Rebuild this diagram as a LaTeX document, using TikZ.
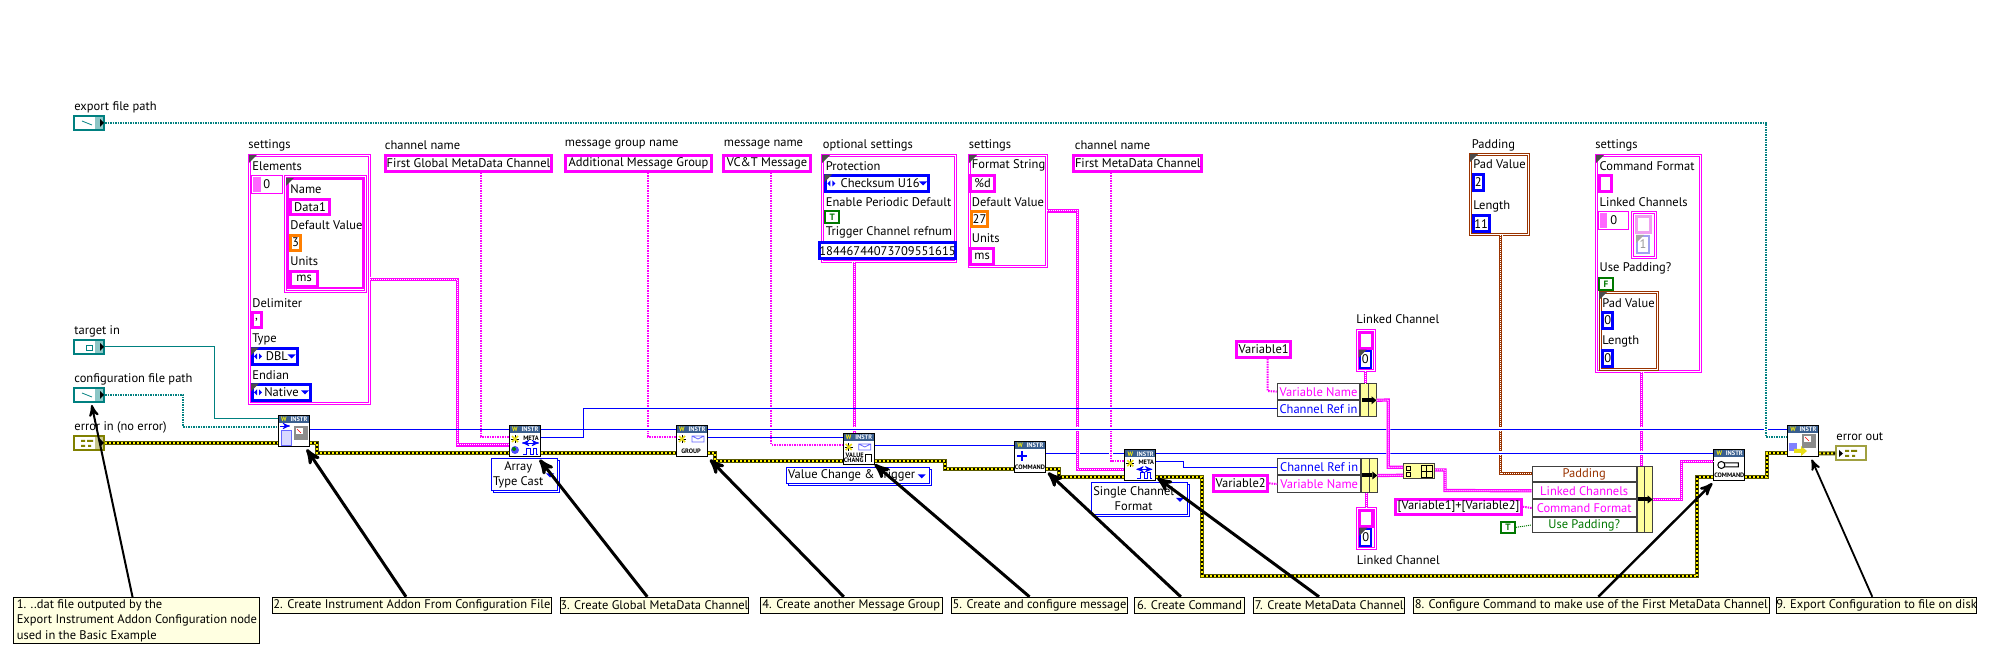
\documentclass[tikz,border=0pt]{standalone}
\usepackage{fontspec}
\setmainfont{PT Sans}
\usetikzlibrary{calc, arrows, positioning}
\definecolor{wteal}{HTML}{008080}
\definecolor{wpink}{HTML}{FF00FF}
\definecolor{wblue}{HTML}{0000FF}
\definecolor{wbrown}{HTML}{993300}
\definecolor{wgreen}{HTML}{007800}
\definecolor{wolive}{HTML}{808000}
\definecolor{wdark}{HTML}{5A5A00}
\definecolor{worange}{HTML}{FF7F00}
\definecolor{notey}{HTML}{FFFFE1}
\definecolor{bargray}{HTML}{404040}
\definecolor{vihead}{HTML}{3A5F8F}
\definecolor{paleP}{HTML}{F0A0F0}
\definecolor{paleB}{HTML}{A0A0F0}
\tikzset{
lbl/.style={inner sep=0pt, anchor=west, font=\fontsize{6.25}{7.6}\selectfont},
ctl/.style={rectangle, inner sep=0pt, fill=white, align=center, font=\fontsize{6.25}{7.6}\selectfont},
clus/.style={rectangle, inner sep=0pt, line width=.5pt, double=white, double distance=.5pt, fill=white, font=\fontsize{6.25}{7.6}\selectfont},
notebox/.style={rectangle, draw=black, line width=.5pt, fill=notey, inner sep=0pt, font=\fontsize{6.25}{7.6}\selectfont},
vibox/.style={rectangle, draw=black, line width=.5pt, fill=white, inner sep=0pt, minimum width=15.5pt, minimum height=15.5pt},
vitxt/.style={inner sep=0pt, font=\fontsize{3.2}{3.6}\selectfont\bfseries},
barbox/.style={rectangle, draw=bargray, line width=.5pt, fill=notey!70!yellow, inner sep=0pt},
termbox/.style={rectangle, line width=1pt, fill=white, inner sep=0pt, minimum width=15pt, minimum height=7pt},
bluew/.style={draw=wblue, line width=.5pt},
halo/.style={preaction={draw=white, line width=2pt, solid}},
tealw/.style={draw=wteal, line width=.5pt},
pathw/.style={draw=wteal, line width=1pt, dash pattern=on .75pt off .5pt},
strw/.style={draw=wpink, line width=1pt, dash pattern=on .75pt off .5pt},
clusw/.style={draw=#1, line width=1.6pt, postaction={draw=white, line width=.5pt, dash pattern=on .5pt off .5pt}},
clusw/.default=wpink,
errw/.style={draw=wdark, line width=2pt, postaction={draw=black, line width=1pt}, postaction={draw=yellow, line width=1pt, dash pattern=on 1pt off 1pt}},
notearrow/.style={draw=black, -stealth', shorten >=0pt}
}
\newcommand{\ctlbox}[8]{\node[ctl,draw=#6,line width={#7*.5pt},minimum width={((#4)-(#2)-#7)*.5pt},minimum height={((#5)-(#3)-#7)*.5pt}] (#1) at ({((#2)+(#4))/2},{((#3)+(#5))/2}) {#8};}
\newcommand{\clusnode}[6]{\node[clus,draw=#6,minimum width={((#4)-(#2)-3)*.5pt},minimum height={((#5)-(#3)-3)*.5pt}] (#1) at ({((#2)+(#4))/2},{((#3)+(#5))/2}) {};}
\newcommand{\cornermark}[2]{\fill[black!70] ({#1},{#2}) -- ({#1+8},{#2}) -- ({#1},{#2+8}) -- cycle;}
\newcommand{\downmark}[2]{\fill[wblue] ({#1-4},{#2-2}) -- ({#1+4},{#2-2}) -- ({#1},{#2+2}) -- cycle;}
\newcommand{\boolmark}[1]{\textcolor{wgreen}{\fontsize{4.6}{5}\selectfont\textbf{#1}}}
\newcommand{\enumnode}[6]{\ctlbox{#1}{#2}{#3}{#4}{#5}{wblue}{3}{#6}
\cornermark{#2}{#3}
\fill[wblue] (#2+6,{(#3+#5)/2-3}) -- (#2+3,{(#3+#5)/2}) -- (#2+6,{(#3+#5)/2+3}) -- cycle;
\fill[wblue] (#2+8,{(#3+#5)/2-3}) -- (#2+11,{(#3+#5)/2}) -- (#2+8,{(#3+#5)/2+3}) -- cycle;
\downmark{#4-7}{(#3+#5)/2}}
\newcommand{\ringnode}[6]{\ctlbox{#1b}{#2+2}{#3+2}{#4}{#5}{wblue}{1}{}
\ctlbox{#1}{#2}{#3}{#4-2}{#5-2}{wblue}{1}{}
\node[lbl,anchor=center,align=center] (#1t) at ({(#2+#4)/2-7},{(#3+#5)/2-1}) {#6};
\downmark{#4-10}{(#3+#5)/2}}
\newcommand{\barnode}[5]{\node[barbox,minimum width={(#4-#2-1)*.5pt},minimum height={(#5-#3-1)*.5pt}] (#1) at ({(#2+#4)/2},{(#3+#5)/2}) {};
\draw[bargray,line width=.5pt] ({(#2+#4)/2},#3) -- ({(#2+#4)/2},#5);
\fill[black] ({(#2+#4)/2-7},{(#3+#5)/2-2}) rectangle ({(#2+#4)/2+3},{(#3+#5)/2+2});
\fill[black] ({(#2+#4)/2+3},{(#3+#5)/2-4}) -- ({(#2+#4)/2+8},{(#3+#5)/2}) -- ({(#2+#4)/2+3},{(#3+#5)/2+4}) -- cycle;}
\newcommand{\termnode}[4]{\node[termbox,draw=#4] (#1) at ({#2+16},{#3+8}) {};
\fill[#4!45] (#2+22,#3+2) rectangle (#2+30,#3+14);
\fill[black] (#2+27,#3+4) -- (#2+31,#3+8) -- (#2+27,#3+12) -- cycle;}
\newcommand{\errmark}[3]{\fill[#3] (#1,#2) rectangle (#1+4,#2+2) (#1+6,#2) rectangle (#1+12,#2+2) (#1,#2+5) rectangle (#1+4,#2+7) (#1+7,#2+5) rectangle (#1+10,#2+7);}
\newcommand{\vinode}[3]{\node[vibox] (#1) at ({#2+16},{#3+16}) {};
\fill[vihead] (#2+1,#3+1) rectangle (#2+31,#3+8);
\node[vitxt,text=yellow] (#1w) at (#2+6,#3+4.5) {W};
\node[vitxt,text=white] (#1h) at (#2+21,#3+4.5) {INSTR};}
\newcommand{\starmark}[2]{\draw[black,line width=.4pt] (#1-4,#2) -- (#1+4,#2) (#1,#2-4) -- (#1,#2+4);
\draw[yellow!90!black,line width=.8pt] (#1-3,#2-3) -- (#1+3,#2+3) (#1-3,#2+3) -- (#1+3,#2-3);}
\newcommand{\mailmark}[2]{\draw[wblue!60,fill=white,line width=.4pt] (#1-6,#2-3) rectangle (#1+6,#2+3) (#1-6,#2-3) -- (#1,#2) -- (#1+6,#2-3);}
\newcommand{\pulsemark}[2]{\draw[wblue,line width=.4pt] (#1-7,#2+3) -- (#1-4,#2+3) -- (#1-4,#2-3) -- (#1,#2-3) -- (#1,#2+3) -- (#1+3,#2+3) -- (#1+3,#2-3) -- (#1+6,#2-3) -- (#1+6,#2+3) -- (#1+8,#2+3);}
\newcommand{\gaugemark}[2]{\fill[black!45] (#1-7,#2-7) rectangle (#1+7,#2+7);
\fill[white] (#1-5,#2-5) rectangle (#1+2,#2+1);
\draw[red,line width=.3pt] (#1-4,#2-4) -- (#1,#2);}

\begin{document}
\begin{tikzpicture}[x=.5pt,y=-.5pt]
\useasboundingbox (0,0) rectangle (1998,656);
% labels
\foreach \n/\x/\y/\t in {lexport/74/107/export file path, ltarget/74/331/target in, lconfig/74/379/configuration file path, lerrin/74/427/error in (no error), lset/248/145/settings, lchan/384.5/145/channel name, lgroup/564.5/145/message group name, lmsg/723.5/145/message name, lopt/822.5/145/optional settings, lsett/968.5/145/settings, lchant/1074.5/145/channel name, lpad/1471.5/145/Padding, lsetc/1595/145/settings, llinka/1356/319/Linked Channel, llinkb/1356.5/560/Linked Channel, lerrout/1836/437/error out}
  {\node[lbl] (\n) at (\x,\y) {\t};}
% front panel terminals
\termnode{texport}{73}{115}{wteal}
\termnode{ttarget}{73}{339}{wteal}
\termnode{tconfig}{73}{387}{wteal}
\termnode{terrin}{73}{435}{wolive}
\draw[wteal,line width=.4pt] (82,121) -- (92,125) (82,393) -- (92,397);
\draw[wteal,line width=.4pt] (86,345) rectangle (92,350);
\errmark{81}{440}{wolive}
\node[termbox,draw=wolive!75,fill=white] (terrout) at (1851,453.5) {};
\fill[black] (1839,450) -- (1843,453.5) -- (1839,457) -- cycle;
\errmark{1845}{450}{wolive}
% settings
\clusnode{cseta}{248.3}{154}{371}{404.7}{wpink}
\cornermark{249}{155}
\clusnode{carr}{284}{175}{366.7}{292.7}{wpink}
\ctlbox{cel}{286.5}{178}{364}{289.3}{wpink}{2}{}
\cornermark{286}{178}
\ctlbox{cidx}{250.5}{175}{283}{194}{wpink}{1}{0}
\fill[wpink!60] (253,177) rectangle (261,192);
\foreach \n/\x/\y/\t in {lel/252/166/Elements, lname/290/189/Name, ldef/290/225/Default Value, lunit/290/261/Units, ldel/252/302.7/Delimiter, ltype/252/339/Type, lend/252/375/Endian}
  {\node[lbl] (\n) at (\x,\y) {\t};}
\ctlbox{cdata}{289.3}{197.7}{330.7}{215.7}{wpink}{3}{Data1}
\ctlbox{cthree}{289.3}{233.7}{302}{251.7}{worange}{3}{3}
\ctlbox{cms}{289.3}{269.7}{319}{287.7}{wpink}{3}{ms}
\ctlbox{cdelim}{250.5}{311.3}{262.7}{329.3}{wpink}{3}{,}
\enumnode{cdbl}{251}{347.3}{298.7}{365.7}{\hspace{2pt}DBL}
\enumnode{cnat}{251}{383.3}{312}{401.7}{Native}
% names
\ctlbox{cglob}{384.3}{154}{552.7}{172.7}{wpink}{3}{First Global MetaData Channel}
\ctlbox{cmgrp}{564.3}{154.3}{712.7}{172.7}{wpink}{3}{Additional Message Group}
\ctlbox{cmsg}{722.3}{154.3}{811.7}{172.7}{wpink}{3}{VC\&T Message}
\ctlbox{cfirst}{1072.3}{154.3}{1203.3}{172.7}{wpink}{3}{First MetaData Channel}
% optional settings
\clusnode{copt}{821.3}{154}{956.7}{262.7}{wpink}
\cornermark{822}{155}
\foreach \n/\x/\y/\t in {lprot/825.5/165.7/Protection, lena/825.5/201.7/Enable Periodic Default, ltrig/825.5/232.7/Trigger Channel refnum}
  {\node[lbl] (\n) at (\x,\y) {\t};}
\enumnode{cchk}{824.3}{174.3}{930}{192.7}{\hspace{3pt}Checksum U16}
\ctlbox{cena}{824.3}{210.3}{840}{224.3}{wgreen}{2}{\boolmark{T}}
\ctlbox{cref}{824.3}{241.3}{950.7}{260}{wblue}{3}{18446744073709551615}
% second settings
\clusnode{csetb}{968}{154}{1047.7}{267.7}{wpink}
\cornermark{969}{155}
\foreach \n/\x/\y/\t in {lfmt/971.5/165.7/Format String, ldefb/971.5/201.7/Default Value, lunitb/971.5/237.7/Units}
  {\node[lbl] (\n) at (\x,\y) {\t};}
\ctlbox{cfmt}{969.3}{174.3}{996}{192.7}{wpink}{3}{\%d}
\ctlbox{cval}{970}{210.3}{989}{228.3}{worange}{3}{27}
\ctlbox{cmsb}{969.3}{246.7}{995}{265.7}{wpink}{3}{ms}
% padding
\clusnode{cpad}{1469.3}{153.3}{1530}{235.7}{wbrown}
\cornermark{1470}{154}
\foreach \n/\x/\y/\t in {lpv/1473/164.3/Pad Value, llen/1473/206/Length}
  {\node[lbl] (\n) at (\x,\y) {\t};}
\ctlbox{cpv}{1471.7}{173.3}{1485}{191.7}{wblue}{3}{2}
\ctlbox{clen}{1471.7}{214.3}{1490.7}{233.3}{wblue}{3}{11}
% command settings
\clusnode{csetc}{1595}{154.3}{1701.7}{373.3}{wpink}
\cornermark{1596}{155}
\foreach \n/\x/\y/\t in {lcf/1599.3/165.7/Command Format, llc/1599.3/201.7/Linked Channels, lup/1599.3/268.7/Use Padding?}
  {\node[lbl] (\n) at (\x,\y) {\t};}
\ctlbox{ccf}{1598}{174.3}{1612.7}{192.7}{wpink}{3}{}
\ctlbox{cidxc}{1598}{211}{1629.3}{230}{wpink}{1}{0}
\fill[wpink!60] (1600,213) rectangle (1607,228);
\clusnode{clinkc}{1630.7}{210.7}{1656.7}{259.3}{wpink}
\ctlbox{clca}{1635}{215}{1652}{234}{paleP}{3}{}
\ctlbox{clcb}{1636}{235}{1650}{254}{paleB}{2}{\textcolor{black!40}{1}}
\fill[black!35] (1636,235) -- (1644,235) -- (1636,243) -- cycle;
\ctlbox{cfb}{1598}{277.3}{1614}{291}{wgreen}{2}{\boolmark{F}}
\clusnode{cpadc}{1598.7}{291.3}{1658.7}{370.7}{wbrown}
\cornermark{1599}{292}
\foreach \n/\x/\y/\t in {lpvc/1602/302.7/Pad Value, llenc/1602/341/Length}
  {\node[lbl] (\n) at (\x,\y) {\t};}
\ctlbox{cpvc}{1601.3}{311.3}{1614}{329.7}{wblue}{3}{0}
\ctlbox{clenc}{1601.3}{349.3}{1614}{367.7}{wblue}{3}{0}
% rings
\ringnode{rarr}{490.5}{458.3}{560}{492.7}{Array\\Type Cast}
\ringnode{rval}{785.7}{466.7}{931.7}{486}{Value Change \& Trigger}
\ringnode{rsing}{1091.3}{482.3}{1190}{517.3}{Single Channel\\Format}
% vi icons
\vinode{vione}{278}{415}
\vinode{vitwo}{509}{425}
\vinode{vithree}{676}{425}
\vinode{vifour}{842.7}{433}
\vinode{vifive}{1014}{441}
\vinode{visix}{1124.3}{449.3}
\vinode{vieight}{1713.3}{449}
\vinode{vinine}{1787}{425}
\begin{scope}[shift={(278,415)}]
\draw[wblue!60,fill=wblue!15,line width=.4pt] (3,15) rectangle (13,30);
\draw[wblue,line width=.4pt,-stealth'] (2,11) -- (12,11);
\gaugemark{23}{18}
\end{scope}
\begin{scope}[shift={(509,425)}]
\starmark{6}{14}
\node[vitxt] (vitwot) at (22,13) {META};
\draw[wblue,line width=.4pt,stealth'-stealth'] (13,18) -- (30,18);
\fill[wblue!70] (6,25) circle (4);
\fill[green!50!black] (5,24) circle (2);
\pulsemark{21}{26}
\end{scope}
\begin{scope}[shift={(676,425)}]
\starmark{6}{14}
\mailmark{22}{14}
\node[vitxt] (vithreet) at (15,26) {GROUP};
\end{scope}
\begin{scope}[shift={(842.7,433)}]
\starmark{6}{14}
\mailmark{22}{14}
\node[vitxt] (vifourt) at (12,22) {VALUE};
\node[vitxt] (vifourc) at (11,27) {CHANG};
\draw[black,line width=.5pt] (23,29) -- (23,22) -- (29,22) -- (29,29);
\end{scope}
\begin{scope}[shift={(1014,441)}]
\draw[wblue,line width=1pt] (3,15) -- (13,15) (8,10) -- (8,20);
\node[vitxt] (vifivet) at (16,26) {COMMAND};
\end{scope}
\begin{scope}[shift={(1124.3,449.3)}]
\starmark{6}{14}
\node[vitxt] (visixt) at (22,13) {META};
\draw[wblue,line width=.4pt,stealth'-stealth'] (12,20) -- (28,20);
\pulsemark{20}{26}
\end{scope}
\begin{scope}[shift={(1713.3,449)}]
\draw[black,line width=.5pt] (8,16) circle (3.5) (11,14) -- (25,14) -- (25,18) -- (11,18);
\node[vitxt] (vieightt) at (16,26.5) {COMMAND};
\end{scope}
\begin{scope}[shift={(1787,425)}]
\fill[wblue!50] (2,18) rectangle (10,26);
\fill[yellow!90!black] (7,24) -- (14,24) -- (14,21) -- (20,26) -- (14,31) -- (14,28) -- (7,28) -- cycle;
\gaugemark{22}{16}
\end{scope}
% bundlers
\ctlbox{bar}{1276.7}{383.3}{1360.3}{400}{bargray}{1}{\textcolor{wpink}{Variable Name}}
\ctlbox{bab}{1276.7}{400}{1360.3}{417.3}{bargray}{1}{\textcolor{wblue}{Channel Ref in}}
\barnode{bac}{1360.3}{383.3}{1376.7}{417.3}
\ctlbox{bbr}{1277.3}{458.3}{1361}{475.3}{bargray}{1}{\textcolor{wblue}{Channel Ref in}}
\ctlbox{bbb}{1277.3}{475.3}{1361}{492.7}{bargray}{1}{\textcolor{wpink}{Variable Name}}
\barnode{bbc}{1361}{458.3}{1377.7}{492.7}
\ctlbox{bca}{1531.7}{465.7}{1636.7}{482.3}{bargray}{1}{\textcolor{wbrown}{Padding}}
\ctlbox{bcb}{1531.7}{482.3}{1636.7}{499.3}{bargray}{1}{\textcolor{wpink}{Linked Channels}}
\ctlbox{bcc}{1531.7}{499.3}{1636.7}{516.7}{bargray}{1}{\textcolor{wpink}{Command Format}}
\ctlbox{bcd}{1531.7}{516.7}{1636.7}{533.3}{bargray}{1}{\textcolor{wgreen}{Use Padding?}}
\barnode{bce}{1636.7}{465.7}{1652.7}{533.3}
% build array
\node[barbox,minimum width=15.5pt,minimum height=7.5pt] (build) at (1419,471.3) {};
\draw[black,line width=.4pt] (1406,466) rectangle (1410,470) (1406,472) rectangle (1410,476) (1421,465) rectangle (1432,477) (1426.5,465) -- (1426.5,477) (1421,471) -- (1432,471);
% variables
\ctlbox{cvara}{1235.3}{340}{1292}{359}{wpink}{3}{Variable1}
\ctlbox{cvarb}{1212.3}{474}{1269}{492.7}{wpink}{3}{Variable2}
\ctlbox{ctpl}{1394.3}{497.7}{1522.7}{515.7}{wpink}{3}{[Variable1]+[Variable2]}
\ctlbox{ctrue}{1500}{520.7}{1516}{534}{wgreen}{2}{\boolmark{T}}
% linked channels
\foreach \n/\x/\y in {cla/1355.7/328.7, clb/1356.3/506.7}
  {\clusnode{\n}{\x}{\y}{\x+20.3}{\y+43}{wpink}
   \ctlbox{\n-t}{\x+2}{\y+2}{\x+18}{\y+21}{wpink}{3}{}
   \ctlbox{\n-v}{\x+3}{\y+21}{\x+16}{\y+40}{wblue}{2}{0}
   \cornermark{\x+3}{\y+21}}
% wires under the pink ones
\draw[bluew] (vifive.east |- 0,453.3) -- (visix.west |- 0,453.3);
% pink wires
\draw[clusw,halo] (cseta.east |- 0,279.3) -- (457.7,279.3) -- (457.7,445) -- (vitwo.west |- 0,445);
\draw[strw,halo] (481,0 |- cglob.south) -- (481,436.7) -- (vitwo.west |- 0,436.7);
\draw[strw,halo] (648,0 |- cmgrp.south) -- (648,436.7) -- (vithree.west |- 0,436.7);
\draw[strw,halo] (771,0 |- cmsg.south) -- (771,444.7) -- (vifour.west |- 0,444.7);
\draw[clusw,halo] (854.3,0 |- copt.south) -- (854.3,0 |- vifour.north);
\draw[clusw,halo] (csetb.east |- 0,211) -- (1077.7,211) -- (1077.7,469.3) -- (visix.west |- 0,469.3);
\draw[strw,halo] (1111,0 |- cfirst.south) -- (1111,461.3) -- (visix.west |- 0,461.3);
\draw[clusw=wbrown,halo] (1500.7,0 |- cpad.south) -- (1500.7,473.3) -- (bca.west |- 0,473.3);
\draw[clusw,halo] (1641.7,0 |- csetc.south) -- (1641.7,0 |- bce.north);
% blue wires
\draw[bluew] (vione.east |- 0,429.3) -- (vitwo.west |- 0,429.3);
\draw[bluew,halo] (vitwo.east |- 0,429.3) -- (vithree.west |- 0,429.3);
\draw[bluew] (vitwo.east |- 0,437.3) -- (583,437.3) -- (583,408.3) -- (bab.west |- 0,408.3);
\draw[bluew] (vithree.east |- 0,437.3) -- (vifour.west |- 0,437.3);
\draw[bluew,halo] (vithree.east |- 0,429.3) -- (vinine.west |- 0,429.3);
\draw[bluew] (vifour.east |- 0,445.3) -- (vifive.west |- 0,445.3);
\draw[bluew,halo] (visix.east |- 0,453.3) -- (vieight.west |- 0,453.3);
\draw[bluew] (visix.east |- 0,461.3) -- (1183.3,461.3) -- (1183.3,467.3) -- (bbr.west |- 0,467.3);
\draw[pathw,halo] (texport.east) -- (1766,123) -- (1766,437) -- (vinine.west |- 0,437);
% teal wires
\draw[tealw] (ttarget.east) -- (214,347) -- (214,419) -- (vione.west |- 0,419);
\draw[pathw] (tconfig.east) -- (183,395) -- (183,427) -- (vione.west |- 0,427);
% error wires
\draw[errw] (terrin.east) -- (vione.west |- 0,443);
\draw[errw] (vione.east |- 0,443) -- (316.7,443) -- (316.7,453.3) -- (vitwo.west |- 0,453.3);
\draw[errw] (vitwo.east |- 0,453.3) -- (vithree.west |- 0,453.3);
\draw[errw] (vithree.east |- 0,453.3) -- (715,453.3) -- (715,461.3) -- (vifour.west |- 0,461.3);
\draw[errw] (vifour.east |- 0,461.3) -- (945,461.3) -- (945,469.3) -- (vifive.west |- 0,469.3);
\draw[errw] (vifive.east |- 0,469.3) -- (1059.3,469.3) -- (1059.3,477.3) -- (visix.west |- 0,477.3);
\draw[errw] (visix.east |- 0,477.3) -- (1202.3,477.3) -- (1202.3,576) -- (1697.3,576) -- (1697.3,477.3) -- (vieight.west |- 0,477.3);
\draw[errw] (vieight.east |- 0,477.3) -- (1766.7,477.3) -- (1766.7,453.3) -- (vinine.west |- 0,453.3);
\draw[errw] (vinine.east |- 0,453.3) -- (terrout.west);
% bundle wires
\draw[strw] (1267.7,0 |- cvara.south) -- (1267.7,391) -- (bar.west);
\draw[strw] (cvarb.east) -- (bbb.west);
\draw[clusw] (1365.3,0 |- cla.south) -- (1365.3,0 |- bac.north);
\draw[clusw] (1366.7,0 |- bbc.south) -- (1366.7,0 |- clb.north);
\draw[clusw,halo] (bac.east) -- (1388.3,400) -- (1388.3,467.3) -- (build.west |- 0,467.3);
\draw[clusw] (bbc.east) -- (build.west |- 0,475.3);
\draw[clusw] (build.east |- 0,470) -- (1445,470) -- (1445,490.5) -- (bcb.west);
\draw[strw] (ctpl.east) -- (bcc.west);
\draw[wgreen,line width=.5pt,dash pattern=on .5pt off .5pt] (ctrue.east) -- (bcd.west);
\draw[clusw] (bce.east) -- (1681.7,0 |- bce.east) -- (1681.7,461.3) -- (vieight.west |- 0,461.3);
% notes
\node[notebox,minimum width=123pt,minimum height=23pt,align=left,anchor=north west] (nota) at (13.4,597.3) {1. ..dat file outputed by the\\Export Instrument Addon Configuration node\\used in the Basic Example};
\foreach \n/\xa/\xb/\t in {notb/272.8/551/2. Create Instrument Addon From Configuration File, notc/560/748.7/3. Create Global MetaData Channel, notd/760/942.4/4. Create another Message Group, note/951.3/1127.7/5. Create and configure message, notf/1134.4/1244.6/6. Create Command, notg/1253.6/1404.7/7. Create MetaData Channel, noth/1413.3/1769.3/8. Configure Command to make use of the First MetaData Channel, noti/1776.3/1976.7/9. Export Configuration to file on disk}
  {\node[notebox,minimum width={(\xb-\xa)*.5pt},minimum height=8pt] (\n) at ({(\xa+\xb)/2},605.3) {\t};}
% arrows
\foreach \n/\sx/\vi/\dx/\dy/\w in {nota/132.6/tconfig.south/2.7/2/1, notb/406/vione.south east/-3.3/2.3/1.5, notc/647.3/vitwo.south east/-1.4/2.6/1.5, notd/843.8/vithree.south east/2/2.6/1.5, note/1029.5/vifour.south east/0/-.7/1.5, notf/1180.8/vifive.south east/2/-.3/1.5, notg/1319/visix.south east/1/-3.4/1.5, noth/1598.3/vieight.south west/-1/2.3/1.2, noti/1872.3/vinine.south east/-7.3/2.6/.9}
  {\draw[notearrow,line width=\w pt] (\sx,0 |- \n.north) -- ($(\vi)+(\dx,\dy)$);}
\end{tikzpicture}
\end{document}
